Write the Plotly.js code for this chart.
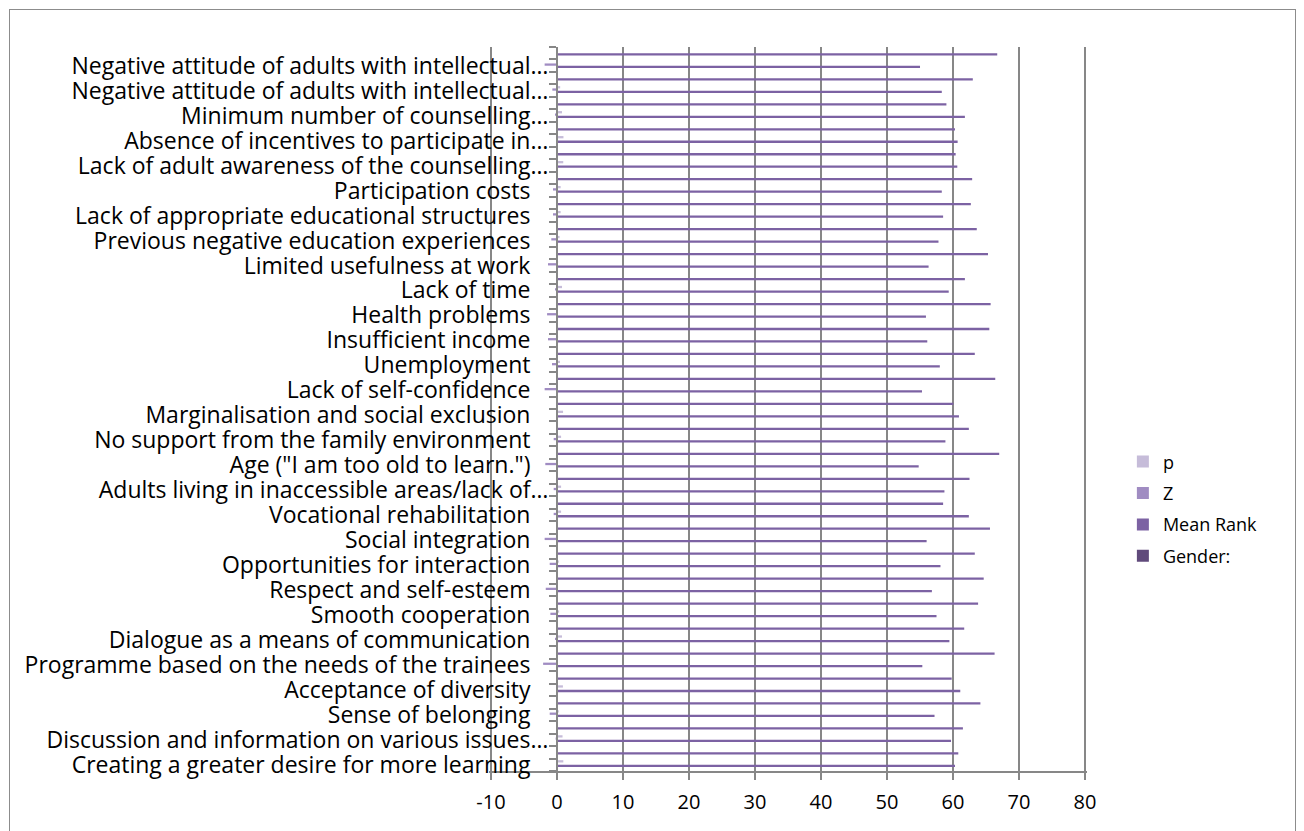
<!DOCTYPE html>
<html>
<head>
<meta charset="utf-8">
<script src="https://cdn.plot.ly/plotly-3.0.1.min.js"></script>
<style>
  html, body { margin: 0; padding: 0; background: #ffffff; }
  #chart { position: absolute; left: 0; top: 0; width: 1304px; height: 831px; }
  #frame { position: absolute; left: 9px; top: 9px; width: 1285px; height: 860px; border: 1px solid #8c8c8c; pointer-events: none; z-index: 5; }
</style>
</head>
<body>
<div id="chart"></div>
<div id="frame"></div>
<script>
// Items (bottom to top), each item has two rows (first row labelled)
const items = [
  "Creating a greater desire for more learning",
  "Discussion and information on various issues…",
  "Sense of belonging",
  "Acceptance of diversity",
  "Programme based on the needs of the trainees",
  "Dialogue as a means of communication",
  "Smooth cooperation",
  "Respect and self-esteem",
  "Opportunities for interaction",
  "Social integration",
  "Vocational rehabilitation",
  "Adults living in inaccessible areas/lack of…",
  "Age (\"I am too old to learn.\")",
  "No support from the family environment",
  "Marginalisation and social exclusion",
  "Lack of self-confidence",
  "Unemployment",
  "Insufficient income",
  "Health problems",
  "Lack of time",
  "Limited usefulness at work",
  "Previous negative education experiences",
  "Lack of appropriate educational structures",
  "Participation costs",
  "Lack of adult awareness of the counselling…",
  "Absence of incentives to participate in…",
  "Minimum number of counselling…",
  "Negative attitude of adults with intellectual…",
  "Negative attitude of adults with intellectual…"
];

// Mean Rank of the first (labelled) row and of the second row of each item
const meanRankFirst = [60.3, 59.7, 57.2, 61.1, 55.35, 59.45, 57.5, 56.8, 58.1, 56.0,
  62.4, 58.7, 54.8, 58.85, 60.9, 55.3, 58.0, 56.1, 55.9, 59.35,
  56.3, 57.8, 58.5, 58.3, 60.65, 60.7, 61.8, 58.3, 55.0];
const meanRankSecond = [60.8, 61.5, 64.15, 59.8, 66.3, 61.7, 63.8, 64.65, 63.3, 65.6,
  58.5, 62.5, 67.0, 62.4, 60.05, 66.4, 63.3, 65.5, 65.7, 61.8,
  65.3, 63.6, 62.7, 62.9, 60.4, 60.3, 59.0, 63.0, 66.7];
// Z and p (given on the first row of each item)
const zValues = [-0.05, -0.2, -1.1, -0.12, -2.1, -0.3, -1.0, -1.7, -1.1, -1.87,
  -0.5, -0.5, -1.77, -0.5, -0.1, -1.87, -0.76, -1.36, -1.5, -0.3,
  -1.36, -0.86, -0.6, -0.6, -0.05, -0.03, -0.3, -0.7, -1.87];
const pValues = [0.96, 0.84, 0.27, 0.9, 0.04, 0.76, 0.32, 0.09, 0.27, 0.06,
  0.62, 0.62, 0.08, 0.62, 0.92, 0.06, 0.45, 0.17, 0.13, 0.76,
  0.17, 0.39, 0.55, 0.55, 0.95, 0.98, 0.76, 0.48, 0.06];

const seriesNames = ["Gender:", "Mean Rank", "Z", "p"];
const seriesColors = ["#604a7b", "#7c62a3", "#a08cc2", "#c6bcd9"];
const legendRanks = [4, 3, 2, 1];
const xTickValues = [-10, 0, 10, 20, 30, 40, 50, 60, 70, 80];

// Build the 58 rows
const rowPos = [], rowMean = [], rowZ = [], rowP = [], rowGender = [];
items.forEach((name, i) => {
  rowPos.push(2 * i);     rowMean.push(meanRankFirst[i]);  rowZ.push(zValues[i]); rowP.push(pValues[i]); rowGender.push(null);
  rowPos.push(2 * i + 1); rowMean.push(meanRankSecond[i]); rowZ.push(null);       rowP.push(null);       rowGender.push(null);
});
const nRows = rowPos.length;
const boundaries = [];
for (let k = 0; k <= nRows; k++) boundaries.push(k - 0.5);
const labelPos = items.map((_, i) => 2 * i);
const labelText = items.map(s => s.endsWith("…") ? s : s + "\u00a0\u00a0\u00a0");

const seriesValues = [rowGender, rowMean, rowZ, rowP];
const FONT = "Open Sans, sans-serif";
const X_MIN = -10.3, X_MAX = 80.3;

const traces = seriesNames.map((nm, s) => ({
  type: "bar",
  orientation: "h",
  name: nm,
  x: seriesValues[s],
  y: rowPos,
  marker: { color: seriesColors[s], line: { width: 0 } },
  legendgroup: "g" + s,
  legendrank: legendRanks[s],
  hoverinfo: "x+name"
}));

const layout = {
  width: 1304,
  height: 831,
  margin: { l: 489, r: 217, t: 47, b: 60 },
  paper_bgcolor: "#ffffff",
  plot_bgcolor: "#ffffff",
  barmode: "group",
  bargap: 0.27,
  bargroupgap: 0,
  showlegend: true,
  font: { family: FONT, color: "#000000" },
  xaxis: {
    range: [X_MIN, X_MAX],
    tickmode: "array",
    tickvals: xTickValues,
    ticktext: xTickValues.map(v => String(v)),
    showgrid: true,
    gridcolor: "#878787",
    gridwidth: 2,
    zeroline: false,
    showline: true,
    linecolor: "#878787",
    linewidth: 2,
    ticks: "outside",
    ticklen: 7,
    tickwidth: 2,
    tickcolor: "#878787",
    ticklabelstandoff: 5,
    tickfont: { family: FONT, size: 20, color: "#000000" },
    fixedrange: true
  },
  yaxis: {
    type: "linear",
    range: [-0.5, nRows - 0.5],
    anchor: "free",
    position: (0 - X_MIN) / (X_MAX - X_MIN),
    showline: true,
    linecolor: "#878787",
    linewidth: 2,
    showgrid: false,
    zeroline: false,
    tickmode: "array",
    tickvals: labelPos,
    ticktext: labelText,
    ticks: "",
    ticklabelstandoff: 3,
    tickfont: { family: FONT, size: 23, color: "#000000" },
    minor: {
      tickmode: "array",
      tickvals: boundaries,
      ticks: "outside",
      ticklen: 7,
      tickwidth: 2,
      tickcolor: "#878787",
      showgrid: false
    },
    fixedrange: true
  },
  legend: {
    x: 1.06,
    xanchor: "left",
    y: 0.362,
    yanchor: "middle",
    traceorder: "grouped",
    tracegroupgap: 5,
    font: { family: FONT, size: 18, color: "#000000" },
    bgcolor: "rgba(0,0,0,0)"
  }
};

Plotly.newPlot("chart", traces, layout, { displayModeBar: false, staticPlot: true });
</script>
</body>
</html>
